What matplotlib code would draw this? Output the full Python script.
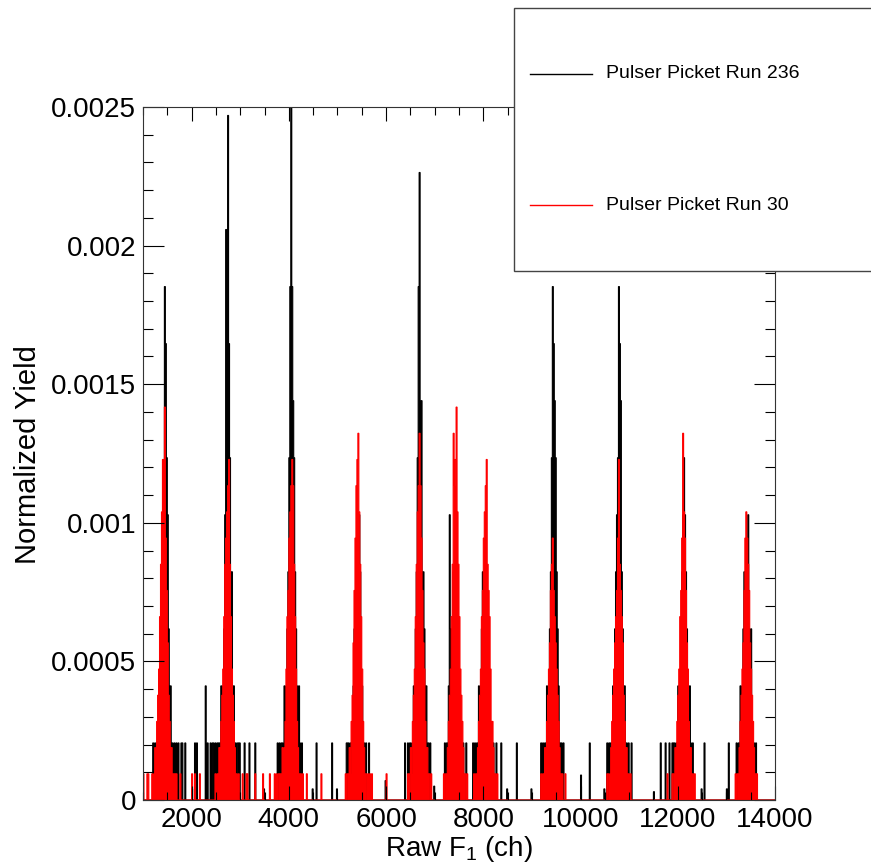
import numpy as np
import matplotlib
matplotlib.use("Agg")
import matplotlib.pyplot as plt
from matplotlib.patches import Rectangle
from matplotlib.lines import Line2D
from matplotlib.ticker import MultipleLocator, FuncFormatter

plt.rcParams['font.family'] = ['Liberation Sans', 'DejaVu Sans']
plt.rcParams['mathtext.fontset'] = 'custom'
plt.rcParams['mathtext.rm'] = 'Liberation Sans'
plt.rcParams['mathtext.default'] = 'regular'

# histogram binning (channels)
ch_min = 1000
ch_max = 14000
bin_w = 20

# yield of one count in each run
unit_236 = 0.0002058
unit_30 = 0.0000945

# pulser peak centres (channel), peak profiles read per ~20 ch, centre at index 15
peak_centres = [1430, 2745, 4040, 5395, 6690, 7450, 8050, 9425, 10780, 12095, 13390]

run236_peaks = [
    [0,0,0,1,0,1,0,1,1,2,1,3,2,4,5,9,8,6,5,3,2,2,1,1,0,1,0,0,0,0,0],
    [0,0,1,0,1,0,1,1,2,1,2,3,5,10,8,12,8,6,4,4,2,2,1,1,0,1,1,0,0,0,0],
    [0,0,0,1,0,1,1,0,2,1,2,3,4,6,9,13,9,7,6,4,3,2,1,2,1,0,1,0,0,0,0],
    [0,0,0,0,1,0,1,0,1,1,1,2,3,2,3,4,3,5,4,2,2,1,1,0,1,0,0,1,0,0,0],
    [0,0,0,1,0,1,1,0,1,2,1,3,4,6,9,11,6,7,4,4,3,2,2,1,1,0,1,0,0,0,0],
    [0,0,0,1,0,1,1,2,5,3,2,3,4,3,2,3,2,1,2,1,1,0,1,0,0,1,0,0,0,0,0],
    [0,0,1,0,1,0,1,1,2,1,2,3,4,3,2,3,2,3,1,2,1,1,0,1,0,0,1,0,0,0,0],
    [0,0,0,1,0,1,0,1,1,2,1,2,3,4,6,9,8,7,6,4,3,2,1,1,1,0,1,0,0,0,0],
    [0,0,0,1,0,1,1,0,1,2,1,3,4,5,6,9,8,7,4,3,2,2,1,1,0,1,0,0,1,0,0],
    [0,0,0,0,1,0,1,0,1,1,2,1,2,3,4,5,6,5,4,3,2,1,2,1,0,1,0,0,0,0,0],
    [0,0,0,0,0,1,0,1,1,2,1,2,3,4,3,2,2,5,3,2,3,1,1,1,0,1,0,0,0,0,0],
]

run30_peaks = [
    [0,0,1,0,1,2,1,3,4,5,7,9,11,13,12,15,10,8,6,4,3,2,2,1,1,0,1,0,0,0,0],
    [0,0,1,0,1,1,2,1,3,4,5,7,9,10,11,12,13,9,7,5,4,3,2,1,1,0,1,0,0,0,0],
    [0,0,1,0,1,1,2,1,2,3,5,7,8,10,11,12,13,12,9,7,5,3,2,1,1,1,0,1,0,0,0],
    [0,0,0,1,0,1,1,2,1,3,4,6,8,10,12,13,14,11,9,7,5,3,2,1,1,0,1,0,1,0,0],
    [0,0,0,1,1,0,2,1,3,4,5,7,9,11,12,14,12,10,8,6,5,3,2,2,1,1,0,1,0,0,0],
    [0,0,1,0,1,1,2,3,4,5,7,9,14,12,13,15,11,9,7,5,4,3,2,1,1,0,1,0,0,0,0],
    [0,0,0,1,0,1,1,2,3,4,5,7,8,10,11,12,13,9,8,7,5,3,3,2,1,1,0,1,0,0,0],
    [0,0,0,1,0,1,1,2,2,3,4,5,6,8,9,10,8,7,6,5,4,3,2,1,1,1,0,0,1,0,0],
    [0,0,0,1,1,0,1,2,3,4,5,6,7,8,10,13,9,8,7,6,4,3,2,2,1,1,0,1,0,0,0],
    [0,0,0,0,1,1,0,2,1,3,4,5,7,8,10,14,11,10,8,6,5,3,2,2,1,1,0,1,0,0,0],
    [0,0,0,0,1,0,1,1,2,3,4,5,6,8,10,11,10,9,8,6,5,4,3,2,1,1,1,0,0,0,0],
]

# stray single counts between the peaks (channel, counts)
run236_bg_ch = [1205, 1575, 1698, 1739, 1780, 1801, 1862, 2068, 2109, 2294, 2335, 2397,
                2438, 2458, 2499, 2540, 2561, 2602, 2890, 2993, 3096, 3198, 3301, 3774,
                3917, 4205, 4575, 4883, 5212, 5294, 5520, 6383, 6486, 8377, 8685, 9569,
                10186, 11645, 11748, 11830, 11912, 12549, 13042]
run236_bg_n = [1, 1, 1, 1, 1, 1, 1, 1, 1, 2, 1, 1,
               1, 1, 1, 1, 1, 1, 1, 1, 1, 1, 1, 1,
               1, 1, 1, 1, 1, 1, 1, 1, 1, 1, 1, 1,
               1, 1, 1, 1, 1, 1, 1]
# very short black marks near zero (yield)
run236_low_ch = [2006, 3486, 4493, 4986, 5992, 6999, 8480, 8994, 10001, 10494, 11008,
                 11501, 12487, 13001]
run236_low_y = [0.00004, 0.00004, 0.00004, 0.00004, 0.00007, 0.00005, 0.00004, 0.00004,
                0.00009, 0.00004, 0.00004, 0.00003, 0.00004, 0.00004]

run30_bg_ch = [1005, 1081, 1102, 1184, 1657, 1698, 1760, 2006, 2068, 2171, 3054, 3136,
               3157, 3301, 3465, 3609, 3712, 3753, 3815, 4370, 4678, 5500, 5623, 5705,
               6013, 11789, 12262]
run30_bg_n = [1, 1, 1, 1, 1, 1, 1, 1, 1, 1, 1, 1,
              1, 1, 1, 1, 1, 1, 1, 1, 1, 1, 1, 1,
              1, 1, 2]

edges = np.arange(ch_min, ch_max + bin_w, bin_w)
nbins = len(edges) - 1


def fill_hist(peaks, bg_ch, bg_n, unit):
    h = np.zeros(nbins)
    for c, prof in zip(peak_centres, peaks):
        i0 = int(round((c - ch_min) / bin_w)) - 15
        for k, n in enumerate(prof):
            j = i0 + k
            if 0 <= j < nbins:
                h[j] = max(h[j], n * unit)
    for c, n in zip(bg_ch, bg_n):
        j = int((c - ch_min) // bin_w)
        if 0 <= j < nbins:
            h[j] = max(h[j], n * unit)
    return h


h236 = fill_hist(run236_peaks, run236_bg_ch, run236_bg_n, unit_236)
for c, y in zip(run236_low_ch, run236_low_y):
    j = int((c - ch_min) // bin_w)
    h236[j] = max(h236[j], y)
h30 = fill_hist(run30_peaks, run30_bg_ch, run30_bg_n, unit_30)

fig = plt.figure(figsize=(8.71, 8.67), dpi=100)
ax = fig.add_axes([143/871, 67/867, 632/871, 693/867])

ax.stairs(h236, edges, fill=True, color='black', lw=0)
ax.stairs(h236, edges, color='black', lw=0.8)
ax.stairs(h30, edges, fill=True, color='red', lw=0)
ax.stairs(h30, edges, color='red', lw=0.8)

ax.set_xlim(ch_min, ch_max)
ax.set_ylim(0, 0.0025)
ax.set_xticks([2000, 4000, 6000, 8000, 10000, 12000, 14000])
ax.xaxis.set_minor_locator(MultipleLocator(500))
ax.yaxis.set_major_locator(MultipleLocator(0.0005))
ax.yaxis.set_minor_locator(MultipleLocator(0.0001))
ax.yaxis.set_major_formatter(FuncFormatter(lambda v, p: '%g' % round(v, 6)))
ax.tick_params(which='both', direction='in', top=True, right=True, labelsize=20)
ax.tick_params(axis='y', which='major', length=15, width=0.8, pad=5)
ax.tick_params(axis='y', which='minor', length=7, width=0.8)
ax.tick_params(axis='x', which='major', length=10, width=0.8, pad=5)
ax.tick_params(axis='x', which='minor', length=5.5, width=0.8)
for s in ax.spines.values():
    s.set_linewidth(0.8)
    s.set_color('#333333')

fig.text(28/871, 1 - 455/867, 'Normalized Yield', rotation=90, fontsize=21,
         ha='center', va='center')
fig.text(459/871, 1 - 849/867, 'Raw F$_1$ (ch)', fontsize=20, ha='center', va='center')

# legend box
box = Rectangle((514/871, 1 - 271/867), 0.5, 263/867, transform=fig.transFigure,
                facecolor='white', edgecolor='#444444', lw=1, zorder=5)
fig.patches.append(box)
fig.lines.append(Line2D([530/871, 592/871], [1 - 74/867, 1 - 74/867],
                        transform=fig.transFigure, color='black', lw=1, zorder=6))
fig.lines.append(Line2D([530/871, 592/871], [1 - 205/867, 1 - 205/867],
                        transform=fig.transFigure, color='red', lw=1, zorder=6))
fig.text(606/871, 1 - 74/867, 'Pulser Picket Run 236', fontsize=14, va='center', zorder=7)
fig.text(606/871, 1 - 205/867, 'Pulser Picket Run 30', fontsize=14, va='center', zorder=7)

fig.savefig('out.png', dpi=100)
